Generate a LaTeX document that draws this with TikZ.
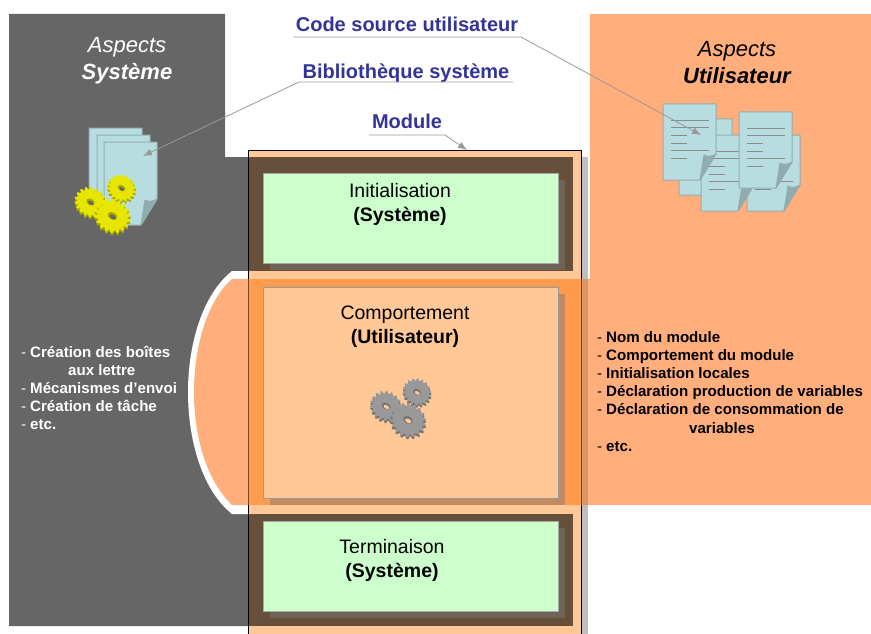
\documentclass[tikz,border=0pt]{standalone}
\usepackage{fontspec}
\setmainfont{Liberation Sans}
\usetikzlibrary{arrows.meta}

\definecolor{panelgray}{HTML}{666666}
\definecolor{panelorange}{HTML}{FFAE7C}
\definecolor{modulefill}{HTML}{FFC896}
\definecolor{moduledeep}{HTML}{FF9B4D}
\definecolor{bandbrown}{HTML}{66503C}
\definecolor{bandshadow}{HTML}{6F6357}
\definecolor{stripgray}{HTML}{BFBFBF}
\definecolor{striporange}{HTML}{D99766}
\definecolor{boxgreen}{HTML}{CCFFCC}
\definecolor{boxshadow}{HTML}{C08A62}
\definecolor{labelblue}{HTML}{333399}
\definecolor{paperblue}{HTML}{B8DDE1}
\definecolor{paperedge}{HTML}{96ACAC}
\definecolor{paperfold}{HTML}{8FADB0}
\definecolor{gearyellow}{HTML}{E6E600}
\definecolor{gearolive}{HTML}{A8A800}
\definecolor{geargray}{HTML}{999999}
\definecolor{geardark}{HTML}{737373}

\tikzset{
  part/.style={draw=#1,line width=.7pt,minimum width=295pt,inner sep=0pt,outer sep=0pt},
  title/.style={font=\fontsize{22}{27}\selectfont\itshape,align=center,inner sep=0pt},
  boxlabel/.style={font=\fontsize{19.5}{24}\selectfont,align=center,inner sep=0pt},
  tag/.style={font=\fontsize{20}{22}\selectfont\bfseries,text=labelblue,inner sep=0pt,outer sep=0pt},
  notes/.style={font=\fontsize{15.1}{18.1}\selectfont\bfseries,align=left,inner sep=0pt},
  leader/.style={draw=gray!80,line width=.8pt,-{Latex[length=9pt,width=7pt]}},
  sheet/.style={fill=paperblue,draw=paperedge,line width=1pt,line join=round},
  sheetline/.style={draw=gray!90,line width=.7pt}
}

\newcommand{\dashitem}{\makebox[9pt][l]{\mdseries-}}

\newcommand{\paper}[3]{
  \begin{scope}[shift={(#1,#2)}]
    \path[sheet] (0,0) -- (53,0) -- (53,#3-26) -- (37,#3) -- (0,#3) -- cycle;
    \path[sheet,fill=paperfold] (53,#3-26) .. controls (48,#3-23) and (44,#3-23) .. (41,#3-25) -- (37,#3) -- cycle;
  \end{scope}
}

\newcommand{\textpaper}[2]{
  \paper{#1}{#2}{76}
  \foreach \ly/\lw in {16/46,23/46,31/24,39/24,46/46,54/24}
    \draw[sheetline] (#1+8,#2+\ly) -- (#1+\lw,#2+\ly);
}

\newcommand{\gearwheel}[6]{
  \begin{scope}[shift={(#1,#2)},rotate=-30,yscale=.9]
    \fill[#5,shift={(1.2,2)}] plot[domain=0:360,samples=145,variable=\t]
      ({#3*(1+.09*max(-1,min(1,2.5*sin(18*\t))))*cos(\t)},{#3*(1+.09*max(-1,min(1,2.5*sin(18*\t))))*sin(\t)});
    \fill[#4] plot[domain=0:360,samples=145,variable=\t]
      ({#3*(1+.09*max(-1,min(1,2.5*sin(18*\t))))*cos(\t)},{#3*(1+.09*max(-1,min(1,2.5*sin(18*\t))))*sin(\t)});
    \fill[#5] (0,0) ellipse ({.3*#3} and {.24*#3});
    \fill[#6] (.7,.7) ellipse ({.2*#3} and {.13*#3});
  \end{scope}
}

\newcommand{\gearset}[5]{
  \gearwheel{#1+31}{#2-14}{13.5}{#3}{#4}{#5}
  \gearwheel{#1}{#2}{15}{#3}{#4}{#5}
  \gearwheel{#1+22}{#2+14}{17}{#3}{#4}{#5}
}

\begin{document}
\begin{tikzpicture}[x=1pt,y=-1pt]
  \useasboundingbox (0,0) rectangle (871,634);

  \fill[panelgray] (9,14) -- (225,14) -- (225,157) -- (250,157) -- (250,626) -- (9,626) -- cycle;
  \fill[panelorange] (590,14) rectangle (871,505);
  \fill[white] (250,271) -- (232,271) .. controls (202,295) and (188,345) .. (188,392)
    .. controls (188,440) and (202,490) .. (232,514) -- (250,514) -- cycle;
  \fill[panelorange] (250,279) -- (232,279) .. controls (208,300) and (194,345) .. (194,392)
    .. controls (194,440) and (208,482) .. (232,505) -- (250,505) -- cycle;

  \fill[stripgray] (581,157) rectangle (588,634);
  \fill[striporange] (581,279) rectangle (588,505);
  \fill[panelorange] (588,279) rectangle (590,505);
  \fill[modulefill] (248,150) rectangle (581,634);
  \fill[moduledeep] (248,279) rectangle (581,505);
  \fill[bandbrown] (248,157) rectangle (573,271);
  \fill[bandbrown] (248,514) rectangle (573,626);
  \draw[line width=.6pt] (248,634) -- (248,150) -- (581,150) -- (581,634);
  \draw[line width=.6pt,draw=black!55!moduledeep] (248,279) -- (248,505);
  \draw[line width=.6pt,draw=black!55!moduledeep] (581,279) -- (581,505);

  \fill[bandshadow] (270,180) rectangle (565,270);
  \fill[boxshadow] (270,294) rectangle (565,505);
  \fill[bandshadow] (270,528) rectangle (565,618);

  \node[part=gray!70,fill=boxgreen,minimum height=90pt] (init) at (410.5,218) {};
  \node[part=gray!80,fill=modulefill,minimum height=211pt] (comp) at (410.5,392.5) {};
  \node[part=gray!70,fill=boxgreen,minimum height=90pt] (term) at (410.5,566) {};

  \node[boxlabel] (initlabel) at (400,204.5) {Initialisation\\\textbf{(Système)}};
  \node[boxlabel] (complabel) at (405,327) {Comportement\\\textbf{(Utilisateur)}};
  \node[boxlabel] (termlabel) at (392,560) {Terminaison\\\textbf{(Système)}};

  \gearset{386}{406}{geargray}{geardark}{modulefill}

  \node[title,text=white] (systemtitle) at (127,61) {Aspects\\\textbf{Système}};
  \node[title] (usertitle) at (737,62.5) {Aspects\\\textbf{Utilisateur}};

  \paper{89}{128}{83}
  \paper{97}{135}{83}
  \paper{104}{142}{83}
  \gearset{90.5}{202}{gearyellow}{gearolive}{panelgray}

  \textpaper{679}{119}
  \textpaper{747}{135}
  \textpaper{701}{135}
  \textpaper{663}{104}
  \textpaper{739}{112}

  \node[notes,text=white] (systemnotes) at (21,388) [anchor=west] {\dashitem Création des boîtes\\\hspace*{47pt}aux lettre\\\dashitem Mécanismes d’envoi\\\dashitem Création de tâche\\\dashitem etc.};
  \node[notes] (usernotes) at (597,391.5) [anchor=west] {\dashitem Nom du module\\\dashitem Comportement du module\\\dashitem Initialisation locales\\\dashitem Déclaration production de variables\\\dashitem Déclaration de consommation de\\\hspace*{92pt}variables\\\dashitem etc.};

  \node[tag,minimum width=228pt,minimum height=26pt] (code) at (407,24) {Code source utilisateur};
  \node[tag,minimum width=214pt,minimum height=20pt,text depth=3pt,text height=17pt] (lib) at (406,72) {Bibliothèque système};
  \node[tag,minimum width=76pt,minimum height=28pt] (module) at (407,121) {Module};

  \coordinate (codetip) at (701,135);
  \coordinate (libtip) at (143,156);
  \coordinate (moduletip) at (467,150);

  \draw[leader] (code.south west) -- (code.south east) -- (codetip);
  \draw[leader] (lib.south east) -- (lib.south west) -- (libtip);
  \draw[leader] (module.south west) -- (module.south east) -- (moduletip);
\end{tikzpicture}
\end{document}
